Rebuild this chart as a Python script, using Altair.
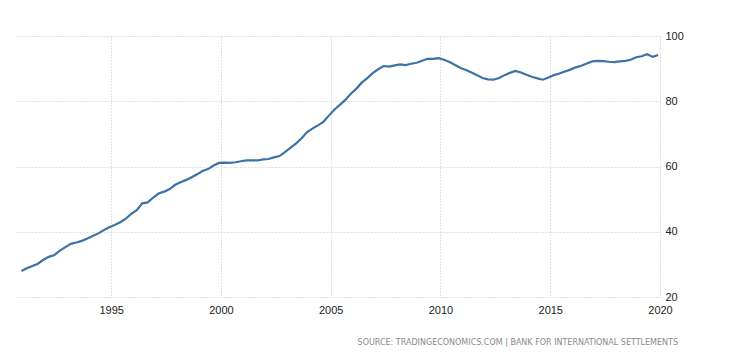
import altair as alt
import pandas as pd

# Quarterly values (Dec 1990 .. Dec 2019)
values = [
    28.0, 28.8, 29.5, 30.2, 31.4, 32.3, 32.9, 34.2, 35.3, 36.3,
    36.7, 37.2, 37.9, 38.7, 39.5, 40.5, 41.4, 42.1, 42.9, 44.0,
    45.5, 46.6, 48.7, 49.0, 50.5, 51.7, 52.3, 53.1, 54.4, 55.2,
    55.9, 56.7, 57.6, 58.6, 59.2, 60.3, 61.1, 61.2, 61.1, 61.3,
    61.6, 61.85, 61.9, 61.85, 62.2, 62.3, 62.8, 63.2, 64.4, 65.7,
    67.0, 68.6, 70.5, 71.6, 72.6, 73.7, 75.6, 77.4, 78.9, 80.4,
    82.3, 83.8, 85.7, 87.1, 88.6, 89.8, 90.8, 90.6, 91.0, 91.3,
    91.1, 91.5, 91.8, 92.4, 93.0, 93.0, 93.2, 92.7, 92.0, 91.1,
    90.2, 89.6, 88.8, 88.0, 87.1, 86.7, 86.6, 87.1, 88.0, 88.7,
    89.3, 88.8, 88.1, 87.5, 87.0, 86.6, 87.3, 88.0, 88.5, 89.1,
    89.7, 90.4, 90.9, 91.6, 92.2, 92.35, 92.3, 92.1, 92.0, 92.2,
    92.4, 92.7, 93.5, 93.8, 94.4, 93.6, 94.2,
]
dates = pd.date_range(start="1990-12-01", end="2019-12-01", freq="3MS").strftime("%Y-%m-%d").tolist()
tick_years = [1995, 2000, 2005, 2010, 2015, 2020]
y_ticks = [20, 40, 60, 80, 100]
source_text = ["SOURCE: TRADINGECONOMICS.COM  |  BANK FOR INTERNATIONAL SETTLEMENTS"]

df = pd.DataFrame({"date": dates, "value": values})

x_enc = alt.X(
    "date:T",
    title=None,
    scale=alt.Scale(
        type="utc",
        domain=[alt.DateTime(year=1990, month=9, date=1, utc=True),
                alt.DateTime(year=2020, month=1, date=1, utc=True)],
    ),
    axis=alt.Axis(
        values=[alt.DateTime(year=y, month=1, date=1, utc=True) for y in tick_years],
        format="%Y", formatType="utc",
        ticks=False, domain=False, grid=True,
        gridDash=[1, 2], gridColor="#c4c4c4",
        labelPadding=7, labelFontSize=11, labelFont="Liberation Sans",
        labelColor="#222", labelFlush=False,
    ),
)
y_enc = alt.Y(
    "value:Q",
    title=None,
    scale=alt.Scale(domain=[20, 100], nice=False, zero=False),
    axis=alt.Axis(
        orient="right", values=y_ticks, ticks=False, domain=False, grid=True,
        gridDash=[1, 2], gridColor="#c4c4c4",
        labelPadding=5, labelFontSize=11, labelFont="Liberation Sans",
        labelColor="#222",
    ),
)

line = alt.Chart(df).mark_line(color="#3d72a4", strokeWidth=2.2).encode(x=x_enc, y=y_enc)

src = alt.Chart(pd.DataFrame({"t": source_text})).mark_text(
    align="right", baseline="middle", fontSize=8, font="DejaVu Sans", color="#8a8a8a"
).encode(text="t:N", x=alt.value(662), y=alt.value(307))

chart = alt.layer(line, src).properties(
    width=644, height=261,
    padding={"left": 8, "top": 22, "right": 5, "bottom": 5},
).configure_view(stroke=None)

chart.save("out.html", embed_options={"renderer": "svg", "actions": False})
